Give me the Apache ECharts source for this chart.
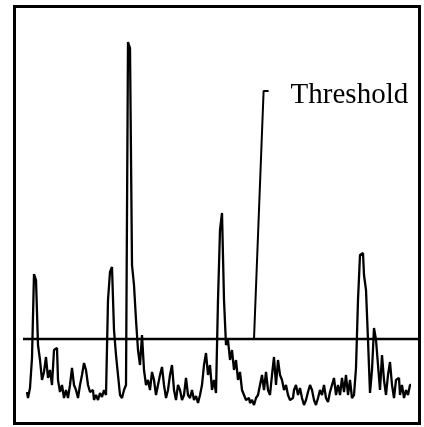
<!DOCTYPE html>
<html>
<head>
<meta charset="utf-8">
<script src="https://cdn.jsdelivr.net/npm/echarts@6/dist/echarts.min.js"></script>
<style>
html,body{margin:0;padding:0;background:#fff;}
#chart{width:424px;height:427px;}
</style>
</head>
<body>
<div id="chart"></div>
<script>
// Signal amplitude, one sample per step
const signal = [
  28,22,32,62,146,140,75,60,40,48,63,42,50,35,70,72,40,28,35,22,
  30,22,35,52,35,30,22,35,45,57,50,35,28,30,20,25,20,27,23,30,
  25,120,148,153,90,65,45,25,22,30,35,378,372,155,135,100,70,55,85,50,
  35,40,30,48,40,25,35,45,53,35,22,30,45,55,30,20,35,30,20,25,
  42,25,22,30,20,24,17,25,35,55,67,45,55,30,40,27,120,190,207,120,
  75,80,60,70,50,60,40,48,30,25,20,22,17,20,15,22,25,35,45,30,
  48,30,25,45,63,35,60,45,40,30,35,25,20,22,30,35,25,32,22,15,
  20,28,35,30,20,15,22,30,25,35,22,18,28,35,42,25,35,25,42,28,
  45,25,40,22,25,52,120,165,167,145,130,80,27,50,92,80,55,30,65,40,
  25,45,58,35,22,40,42,25,35,22,30,25,35
];
const threshold = 81;
const thresholdLabel = "Threshold";
// Annotation leader: anchor on threshold line, elbow, hook end (sample, amplitude)
const leaderSamples = [113.5, 118.3, 120.8];
const leaderValues = [threshold, 329, 329];

const yMax = 400;

const chart = echarts.init(document.getElementById('chart'), null, {renderer: 'canvas'});
const option = {
  animation: false,
  backgroundColor: '#fff',
  grid: [
    {left: 27, right: 13, top: 20, bottom: 7},
    {left: 23, right: 4, top: 20, bottom: 7}
  ],
  xAxis: [
    {type: 'value', gridIndex: 0, min: 0, max: signal.length - 1, show: false},
    {type: 'value', gridIndex: 1, min: 0, max: 1, show: false}
  ],
  yAxis: [
    {type: 'value', gridIndex: 0, min: 0, max: yMax, show: false},
    {type: 'value', gridIndex: 1, min: 0, max: yMax, show: false}
  ],
  graphic: [
    {type: 'rect', shape: {x: 14.5, y: 6.5, width: 405, height: 417},
     style: {fill: 'none', stroke: '#000', lineWidth: 3}, silent: true}
  ],
  series: [
    {
      type: 'line', xAxisIndex: 0, yAxisIndex: 0,
      data: signal.map((v, i) => [i, v]),
      symbol: 'none', step: 'middle',
      lineStyle: {color: '#000', width: 2.3},
      z: 2
    },
    {
      type: 'line', xAxisIndex: 1, yAxisIndex: 1,
      data: [[0, threshold], [1, threshold]],
      symbol: 'none',
      lineStyle: {color: '#000', width: 2.5},
      z: 3
    },
    {
      type: 'line', xAxisIndex: 0, yAxisIndex: 0,
      data: leaderSamples.map((s, i) => [s, leaderValues[i]]),
      symbol: 'none',
      lineStyle: {color: '#000', width: 2},
      endLabel: {
        show: true, formatter: thresholdLabel, distance: 22, offset: [0, 4],
        color: '#000', fontFamily: 'Liberation Serif', fontSize: 29
      },
      z: 4
    }
  ]
};
chart.setOption(option);
</script>
</body>
</html>
